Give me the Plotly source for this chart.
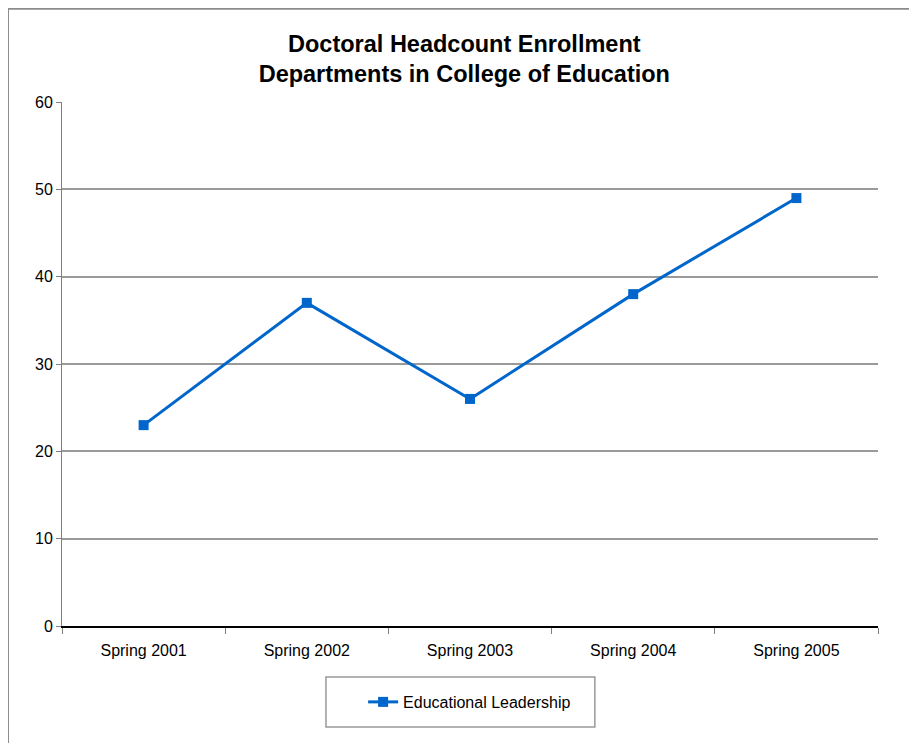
import plotly.graph_objects as go

semesters = ["Spring 2001", "Spring 2002", "Spring 2003", "Spring 2004", "Spring 2005"]
ed_leadership = [23, 37, 26, 38, 49]
y_ticks = [0, 10, 20, 30, 40, 50, 60]
grid_ticks = [10, 20, 30, 40, 50]

fig = go.Figure()
fig.add_trace(go.Scatter(
    x=semesters, y=ed_leadership, name="Educational Leadership",
    mode="lines+markers",
    line=dict(color="#0066CC", width=3),
    marker=dict(symbol="square", size=10, color="#0066CC"),
))
# invisible trace just to carry the darker grid on yaxis2
fig.add_trace(go.Scatter(x=semesters, y=ed_leadership, yaxis="y2",
                         mode="lines", line=dict(width=0), opacity=0,
                         showlegend=False, hoverinfo="skip"))

# page has an 8px body margin, so the figure is sized 909x735
fig.update_layout(
    width=909, height=735,
    margin=dict(l=54, r=39, t=94, b=117),
    paper_bgcolor="white", plot_bgcolor="white",
    font=dict(family="Liberation Sans, Arial, sans-serif", size=16, color="black"),
    title=dict(text="<b>Doctoral Headcount Enrollment<br>Departments in College of Education</b>",
               x=0.502, xanchor="center", y=0.9405, yanchor="middle",
               font=dict(size=23.5, color="black")),
    xaxis=dict(type="category", range=[-0.5, 4.5], tickson="boundaries",
               ticks="outside", ticklen=6, tickcolor="#808080",
               ticklabelstandoff=9,
               showline=True, linecolor="black", linewidth=2,
               showgrid=False, tickfont=dict(size=16)),
    yaxis=dict(range=[0, 60], tickvals=y_ticks, ticks="outside", ticklen=5,
               tickcolor="#808080", showline=True, linecolor="#808080", linewidth=1,
               showgrid=True, gridcolor="#e6e6e6", gridwidth=1, zeroline=False,
               tickfont=dict(size=16)),
    yaxis2=dict(range=[0, 60], overlaying="y", tickvals=grid_ticks,
                showticklabels=False, ticks="", showgrid=True,
                gridcolor="#9a9a9a", gridwidth=1.5, zeroline=False, showline=False),
    showlegend=True,
    legend=dict(orientation="h", x=0.369, xanchor="left", y=-0.145, yanchor="middle",
                bgcolor="rgba(0,0,0,0)", borderwidth=0, font=dict(size=16)),
    shapes=[
        dict(type="rect", xref="paper", yref="paper",
             x0=0.3235, x1=0.653, y0=-0.1927, y1=-0.0973,
             line=dict(color="#999999", width=1.5)),
        dict(type="rect", xref="paper", yref="paper",
             x0=-0.0662, x1=1.06, y0=-0.25, y1=1.178,
             line=dict(color="#8c8c8c", width=2)),
    ],
)

fig.write_html("out.html")
